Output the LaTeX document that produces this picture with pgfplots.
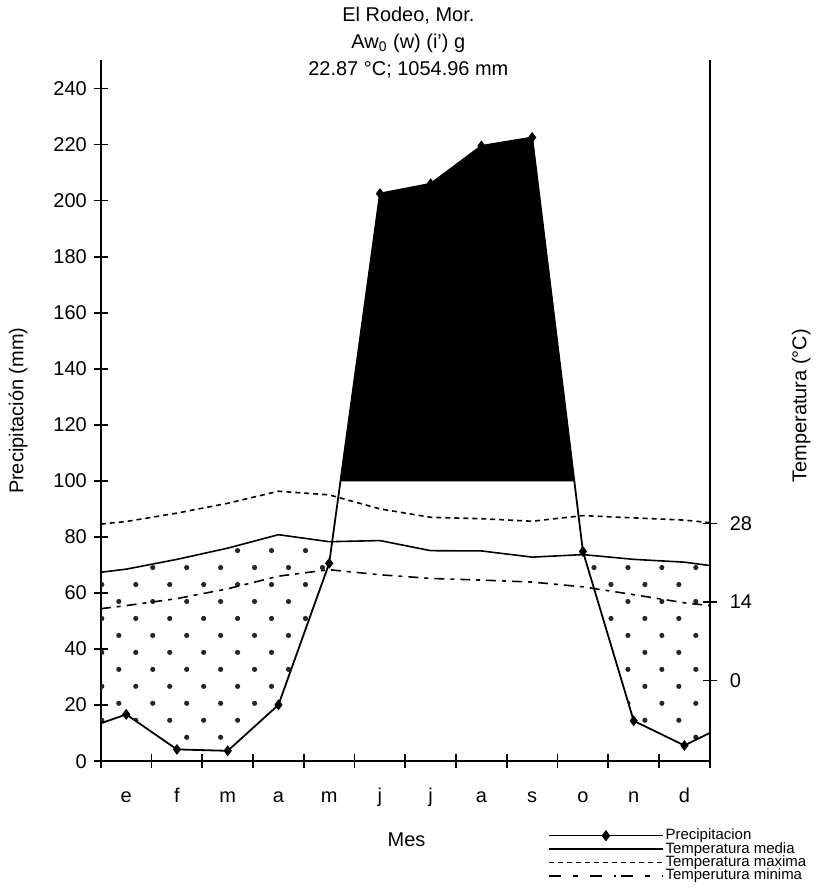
\documentclass[border=0pt]{standalone}
\usepackage{fontspec}
\setmainfont{Liberation Sans}
\usepackage{pgfplots}
\usepackage{pgfplotstable}
\pgfplotsset{compat=1.18}
\usepgfplotslibrary{fillbetween}
\usetikzlibrary{patterns}

\pgfdeclarepatternformonly{sparsedots}{\pgfqpoint{-1.5pt}{-1.5pt}}{\pgfqpoint{10pt}{10pt}}{\pgfqpoint{17pt}{17pt}}{%
  \pgfpathcircle{\pgfqpoint{0pt}{0pt}}{1.3pt}%
  \pgfpathcircle{\pgfqpoint{8.5pt}{8.5pt}}{1.3pt}%
  \pgfusepath{fill}}

% Precipitation (mm); x = month centre, edges at 0 and 12
\pgfplotstableread{
x    p
0    13.5
0.5  16.7
1.5  4.2
2.5  3.7
3.5  20.1
4.5  70.6
5.5  202.5
6.5  206.0
7.5  219.5
8.5  222.5
9.5  74.8
10.5 14.4
11.5 5.6
12   10.1
}\prec

% Temperatures (degC)
\pgfplotstableread{
x    tmed  tmax  tmin
0    19.3  27.9  12.8
0.5  19.85 28.35 13.35
1.5  21.6  29.85 14.6
2.5  23.6  31.6  16.35
3.5  26.0  33.75 18.6
4.5  24.75 33.1  19.75
5.5  24.95 30.6  18.85
6.5  23.15 29.1  18.2
7.5  23.1  28.85 17.9
8.5  22.0  28.4  17.55
9.5  22.45 29.4  16.7
10.5 21.6  29.0  15.3
11.5 21.1  28.6  13.85
12   20.5  28.15 13.35
}\temp

\begin{document}
\begin{tikzpicture}[font=\fontsize{10}{12}\selectfont]
\begin{axis}[
  name=main,
  width=305pt, height=351pt, scale only axis,
  xmin=0, xmax=12, ymin=0, ymax=250,
  axis x line*=bottom, axis y line*=left,
  axis line style={line width=1pt},
  every tick/.style={black, line width=0.9pt},
  tick align=center, major tick length=7pt,
  xtick={0,...,12},
  x tick label as interval,
  xticklabels={e,f,m,a,m,j,j,a,s,o,n,d},
  xticklabel style={text height=1.6ex, text depth=0.3ex, yshift=-5pt},
  ytick={0,20,...,240},
  /pgf/number format/assume math mode=true,
  ticklabel style={font=\fontsize{10}{12}\selectfont},
  title={El Rodeo, Mor.\\Aw\textsubscript{0} (w) (i') g\\22.87 °C; 1054.96 mm},
  title style={align=center, at={(axis description cs:0.505,1.009)}, anchor=center, font=\fontsize{10}{13.5}\selectfont},
  ylabel={Precipitación (mm)},
  ylabel style={at={(axis description cs:-0.136,0.5)}, anchor=center},
  xlabel={Mes},
  xlabel style={at={(axis description cs:0.502,-0.1125)}, anchor=center},
  legend style={draw=none, fill=none, at={(axis description cs:0.734,-0.093)}, anchor=north west,
    font=\fontsize{7.5}{7.5}\selectfont, row sep=-2.2pt, inner sep=0pt,
    nodes={inner sep=1pt}},
  legend cell align=left,
  legend image code/.code={\draw[mark repeat=2,mark phase=2,#1] plot coordinates {(0pt,0pt) (28.5pt,0pt) (57pt,0pt)};},
]
\addplot[draw=none, name path=hundred, forget plot] coordinates {(0,100) (12,100)};
\addplot[draw=none, name path=prec, forget plot] table[x=x, y=p] {\prec};
\addplot[draw=none, name path=tmedp, forget plot] table[x=x, y expr=2*\thisrow{tmed}+28.8] {\temp};

% humid period above 100 mm
\addplot[fill=none, draw=none, forget plot] fill between[of=prec and hundred, split,
  every segment no 1/.style={fill=black, draw=black}];
% dry periods
\addplot[fill=none, draw=none, forget plot] fill between[of=prec and tmedp, split,
  every segment no 0/.style={pattern=sparsedots, pattern color=black!85},
  every segment no 2/.style={pattern=sparsedots, pattern color=black!85}];

% temperature lines
\addplot[black, line width=0.8pt, forget plot] table[x=x, y expr=2*\thisrow{tmed}+28.8] {\temp};
\addplot[black, line width=0.8pt, dash pattern=on 2.5pt off 2pt, forget plot] table[x=x, y expr=2*\thisrow{tmax}+28.8] {\temp};
\addplot[black, line width=0.8pt, dash pattern=on 5pt off 3pt on 2pt off 3pt, forget plot] table[x=x, y expr=2*\thisrow{tmin}+28.8] {\temp};

% precipitation line and marks
\addplot[black, line width=0.9pt, forget plot] table[x=x, y=p] {\prec};
\addplot[black, only marks, mark=diamond*, mark size=2.4pt, restrict x to domain=0.2:11.8, forget plot] table[x=x, y=p] {\prec} ;

\addlegendimage{black, line width=0.8pt, mark=diamond*, mark size=2.2pt}
\addlegendentry{Precipitacion}
\addlegendimage{black, line width=0.8pt}
\addlegendentry{Temperatura media}
\addlegendimage{black, line width=0.8pt, dash pattern=on 2.5pt off 2pt}
\addlegendentry{Temperatura maxima}
\addlegendimage{black, line width=0.8pt, dash pattern=on 6pt off 6pt on 2.5pt off 6pt on 6pt off 6pt on 0.8pt off 3pt}
\addlegendentry{Temperutura minima}

\coordinate (BL) at (rel axis cs:-0.1656,-0.1838);
\coordinate (TR) at (rel axis cs:1.159,1.084);
\end{axis}
\begin{axis}[
  width=305pt, height=351pt, scale only axis,
  at={(main.south west)}, anchor=south west,
  xmin=0, xmax=12, ymin=-14.4, ymax=110.6,
  axis x line=none, axis y line*=right,
  axis line style={line width=1pt},
  every tick/.style={black, line width=0.9pt},
  tick align=center, major tick length=7pt,
  ytick={0,14,28},
  yticklabel style={xshift=3pt},
  /pgf/number format/assume math mode=true,
  ticklabel style={font=\fontsize{10}{12}\selectfont},
  ylabel={Temperatura (°C)},
  ylabel style={at={(axis description cs:1.15,0.507)}, anchor=center},
]
\end{axis}
\useasboundingbox (BL) rectangle (TR);
\end{tikzpicture}
\end{document}
